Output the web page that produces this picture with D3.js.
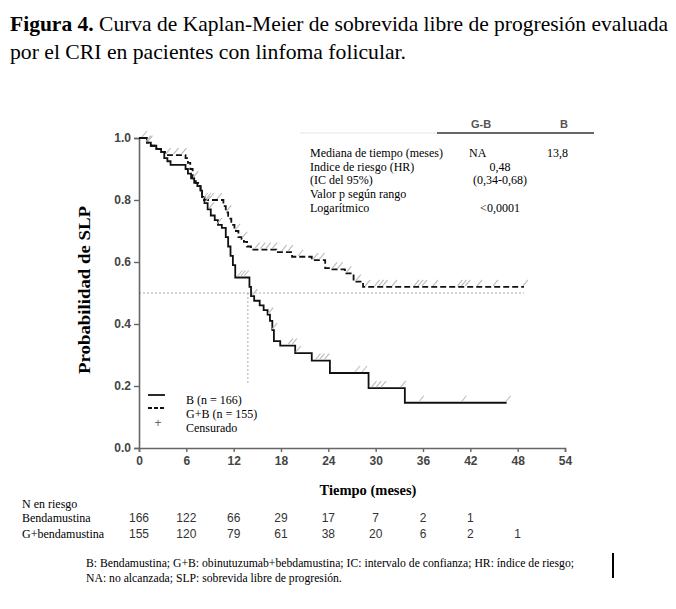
<!DOCTYPE html>
<html><head><meta charset="utf-8">
<script src="https://cdn.jsdelivr.net/npm/d3@7"></script>
<style>body{margin:0;background:#fff}svg{display:block}</style>
</head><body>
<svg id="c" width="676" height="609"></svg>
<script>
// ---- data ----
const xTicks = [0, 6, 12, 18, 24, 30, 36, 42, 48, 54];
const yTicks = [0.0, 0.2, 0.4, 0.6, 0.8, 1.0];
// Bendamustina (B), solid: [month, survival from that month]
const bTimes = [0, 1.0, 1.5, 2.2, 2.8, 3.2, 3.6, 4.0, 5.9, 6.2, 6.6, 7.0, 7.4, 7.8, 8.0, 8.3, 8.7, 9.1, 9.6, 10.0, 10.5, 11.0, 11.3, 11.6, 11.9, 12.2, 14.0, 14.2, 14.6, 15.3, 15.8, 16.3, 16.6, 16.9, 17.1, 17.9, 19.8, 21.9, 24.2, 29.1, 33.7, 46.6];
const bSurv  = [1.0, 0.985, 0.975, 0.965, 0.955, 0.935, 0.925, 0.913, 0.90, 0.885, 0.87, 0.855, 0.845, 0.83, 0.81, 0.79, 0.77, 0.75, 0.735, 0.72, 0.71, 0.68, 0.65, 0.62, 0.59, 0.55, 0.52, 0.49, 0.475, 0.46, 0.445, 0.43, 0.41, 0.38, 0.345, 0.330, 0.306, 0.282, 0.242, 0.193, 0.146, 0.146];
// G+bendamustina (G+B), dashed
const gbTimes = [0, 1.0, 1.5, 2.2, 2.8, 3.3, 5.9, 6.2, 6.5, 6.8, 7.2, 7.5, 7.8, 8.0, 10.7, 11.0, 11.3, 11.7, 12.1, 12.6, 13.0, 13.3, 13.7, 14.2, 17.4, 19.4, 21.9, 23.6, 24.2, 26.1, 27.2, 28.4, 29.5, 48.8];
const gbSurv  = [1.0, 0.985, 0.975, 0.965, 0.955, 0.945, 0.935, 0.92, 0.90, 0.87, 0.855, 0.845, 0.83, 0.80, 0.78, 0.76, 0.74, 0.72, 0.70, 0.68, 0.675, 0.665, 0.65, 0.64, 0.632, 0.617, 0.606, 0.58, 0.576, 0.563, 0.537, 0.52, 0.52, 0.52];
// censored observations (months)
const bCens  = [1.0, 8.5, 9.0, 10.0, 12.6, 13.0, 13.4, 14.5, 16.5, 17.0, 19.0, 19.5, 20.0, 22.5, 23.0, 23.6, 27.5, 28.4, 29.6, 30.2, 30.8, 33.3, 35.6, 41.0, 46.6];
const gbCens = [0.5, 1.2, 3.5, 4.5, 5.5, 7.0, 8.2, 8.6, 9.0, 10.0, 11.2, 12.3, 13.2, 14.8, 15.5, 16.2, 17.0, 18.2, 19.0, 20.3, 22.2, 23.0, 24.6, 25.3, 26.4, 27.6, 28.8, 30.0, 30.5, 31.0, 32.2, 35.0, 35.5, 36.0, 37.4, 40.5, 41.0, 41.5, 43.0, 45.0, 48.8];
const medianTime = 13.8;
const riskTimes = [0, 6, 12, 18, 24, 30, 36, 42, 48];
const riskB  = [166, 122, 66, 29, 17, 7, 2, 1, null];
const riskGB = [155, 120, 79, 61, 38, 20, 6, 2, 1];
const tableRows = [
  ["Mediana de tiempo (meses)", "NA", "13,8"],
  ["Indice de riesgo (HR)", "0,48", ""],
  ["(IC del 95%)", "(0,34-0,68)", ""],
  ["Valor p según rango", "", ""],
  ["Logarítmico", "<0,0001", ""]
];

// ---- drawing ----
const svg = d3.select("#c");
const serif = "'Liberation Serif','Times New Roman',serif";
const sans = "'Liberation Sans',Arial,sans-serif";
const x = d3.scaleLinear().domain([0, 54]).range([139, 565]);
const y = d3.scaleLinear().domain([0, 1]).range([448, 138]);

svg.append("rect").attr("width", 676).attr("height", 609).attr("fill", "#fff");

// title
const t1 = svg.append("text").attr("x", 10).attr("y", 31).attr("font-family", serif).attr("font-size", 21).attr("fill", "#000")
  .attr("textLength", 658).attr("lengthAdjust", "spacingAndGlyphs");
t1.append("tspan").attr("font-weight", "bold").text("Figura 4.");
t1.append("tspan").text(" Curva de Kaplan-Meier de sobrevida libre de progresión evaluada");
svg.append("text").attr("x", 10).attr("y", 59).attr("font-family", serif).attr("font-size", 21)
  .attr("textLength", 396).attr("lengthAdjust", "spacingAndGlyphs").text("por el CRI en pacientes con linfoma folicular.");

// median guide lines
svg.append("line").attr("x1", x(0)).attr("x2", x(48.8)).attr("y1", y(0.5)).attr("y2", y(0.5))
  .attr("stroke", "#aaa").attr("stroke-width", 1).attr("stroke-dasharray", "2,2");
svg.append("line").attr("x1", x(medianTime)).attr("x2", x(medianTime)).attr("y1", y(0.5)).attr("y2", y(0.21))
  .attr("stroke", "#aaa").attr("stroke-width", 1).attr("stroke-dasharray", "2,2");

// axes
const xAxis = d3.axisBottom(x).tickValues(xTicks).tickSize(4).tickPadding(4).tickFormat(d3.format("d"));
const gx = svg.append("g").attr("transform", "translate(0,448)").call(xAxis);
const yAxis = d3.axisLeft(y).tickValues(yTicks).tickSize(5).tickPadding(3).tickFormat(d3.format(".1f"));
const gy = svg.append("g").attr("transform", "translate(139,0)").call(yAxis);
[gx, gy].forEach(g => {
  g.select(".domain").attr("stroke", "#666").attr("stroke-width", 1.6);
  g.selectAll(".tick line").attr("stroke", "#666").attr("stroke-width", 1.4);
  g.selectAll(".tick text").attr("font-family", sans).attr("font-weight", "bold").attr("font-size", 12).attr("fill", "#444");
});

// axis titles
svg.append("text").attr("transform", "translate(90,290) rotate(-90)").attr("text-anchor", "middle")
  .attr("font-family", serif).attr("font-weight", "bold").attr("font-size", 16)
  .attr("textLength", 168).attr("lengthAdjust", "spacingAndGlyphs").text("Probabilidad de SLP");
svg.append("text").attr("x", 368).attr("y", 495).attr("text-anchor", "middle")
  .attr("font-family", serif).attr("font-weight", "bold").attr("font-size", 14.5).text("Tiempo (meses)");

// curves
const line = d3.line().x(d => x(d[0])).y(d => y(d[1])).curve(d3.curveStepAfter);
const bData = bTimes.map((t, i) => [t, bSurv[i]]);
const gbData = gbTimes.map((t, i) => [t, gbSurv[i]]);
svg.append("path").attr("d", line(bData)).attr("fill", "none").attr("stroke", "#111").attr("stroke-width", 1.8);
svg.append("path").attr("d", line(gbData)).attr("fill", "none").attr("stroke", "#111").attr("stroke-width", 1.8).attr("stroke-dasharray", "6,3");

function survAt(times, surv, t) {
  const i = d3.bisectRight(times, t) - 1;
  return surv[Math.max(0, i)];
}
function drawCens(list, times, surv) {
  svg.append("g").selectAll("line").data(list).join("line")
    .attr("x1", d => x(d) - 1).attr("y1", d => y(survAt(times, surv, d)) - 1)
    .attr("x2", d => x(d) + 4).attr("y2", d => y(survAt(times, surv, d)) - 7)
    .attr("stroke", "#bbb").attr("stroke-width", 1.1);
}
drawCens(gbCens, gbTimes, gbSurv);
drawCens(bCens, bTimes, bSurv);

// legend
svg.append("line").attr("x1", 148).attr("x2", 165).attr("y1", 395).attr("y2", 395).attr("stroke", "#111").attr("stroke-width", 1.8);
svg.append("line").attr("x1", 148).attr("x2", 165).attr("y1", 408).attr("y2", 408).attr("stroke", "#111").attr("stroke-width", 1.8).attr("stroke-dasharray", "4,2");
svg.append("text").attr("x", 158).attr("y", 427).attr("text-anchor", "middle").attr("font-family", sans).attr("font-size", 12).attr("fill", "#666").text("+");
const legTexts = ["B (n = 166)", "G+B (n = 155)", "Censurado"];
svg.append("g").selectAll("text").data(legTexts).join("text")
  .attr("x", 186).attr("y", (d, i) => 404 + i * 14).attr("font-family", serif).attr("font-size", 12).text(d => d);

// statistics table
svg.append("line").attr("x1", 300).attr("x2", 437).attr("y1", 133).attr("y2", 133).attr("stroke", "#eee").attr("stroke-width", 1.5);
svg.append("line").attr("x1", 437).attr("x2", 594).attr("y1", 133).attr("y2", 133).attr("stroke", "#333").attr("stroke-width", 1.6);
svg.append("text").attr("x", 481).attr("y", 128).attr("text-anchor", "middle").attr("font-family", sans).attr("font-weight", "bold").attr("font-size", 11).attr("fill", "#555").text("G-B");
svg.append("text").attr("x", 564).attr("y", 128).attr("text-anchor", "middle").attr("font-family", sans).attr("font-weight", "bold").attr("font-size", 11).attr("fill", "#555").text("B");
const rows = svg.append("g").attr("font-family", serif).attr("font-size", 12);
tableRows.forEach((r, i) => {
  const yy = 157 + i * 13.7;
  rows.append("text").attr("x", 310).attr("y", yy).text(r[0]);
  if (i === 0) {
    rows.append("text").attr("x", 469).attr("y", yy).text(r[1]);
    rows.append("text").attr("x", 568).attr("y", yy).attr("text-anchor", "end").text(r[2]);
  } else if (r[1]) {
    rows.append("text").attr("x", 500).attr("y", yy).attr("text-anchor", "middle").text(r[1]);
  }
});

// number at risk
const risk = svg.append("g");
risk.append("text").attr("x", 22).attr("y", 508).attr("font-family", serif).attr("font-size", 12).text("N en riesgo");
risk.append("text").attr("x", 22).attr("y", 522).attr("font-family", serif).attr("font-size", 12).text("Bendamustina");
risk.append("text").attr("x", 22).attr("y", 538).attr("font-family", serif).attr("font-size", 12).text("G+bendamustina");
risk.append("g").selectAll("text").data(riskTimes.filter((t, i) => riskB[i] !== null)).join("text")
  .attr("x", d => x(d)).attr("y", 522).attr("text-anchor", "middle").attr("font-family", sans).attr("font-size", 12).attr("fill", "#333")
  .text((d, i) => riskB[i]);
risk.append("g").selectAll("text").data(riskTimes).join("text")
  .attr("x", d => x(d)).attr("y", 538).attr("text-anchor", "middle").attr("font-family", sans).attr("font-size", 12).attr("fill", "#333")
  .text((d, i) => riskGB[i]);

// footnote
svg.append("text").attr("x", 86).attr("y", 567).attr("font-family", serif).attr("font-size", 11.7)
  .text("B: Bendamustina; G+B: obinutuzumab+bebdamustina; IC: intervalo de confianza; HR: índice de riesgo;");
svg.append("text").attr("x", 86).attr("y", 582).attr("font-family", serif).attr("font-size", 11.7)
  .text("NA: no alcanzada; SLP: sobrevida libre de progresión.");
svg.append("line").attr("x1", 613).attr("x2", 613).attr("y1", 553).attr("y2", 578).attr("stroke", "#000").attr("stroke-width", 2);
</script>
</body></html>
